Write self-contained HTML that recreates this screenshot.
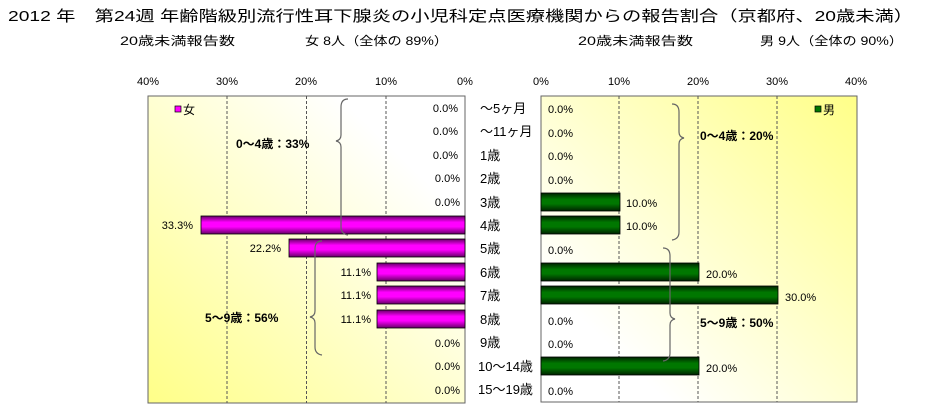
<!DOCTYPE html>
<html><head><meta charset="utf-8"><style>
body{margin:0;background:#fff}
svg{display:block}
text{font-family:"Liberation Sans","Noto Sans CJK JP",sans-serif}
</style></head><body>
<svg width="949" height="417" xmlns="http://www.w3.org/2000/svg">
<defs>
<linearGradient id="bgL" x1="0" y1="1" x2="1" y2="0">
<stop offset="0" stop-color="#ffff88"/><stop offset="0.8" stop-color="#ffffff"/></linearGradient>
<linearGradient id="bgR" x1="1" y1="0" x2="0" y2="1">
<stop offset="0" stop-color="#ffff88"/><stop offset="0.8" stop-color="#ffffff"/></linearGradient>
<linearGradient id="mag" x1="0" y1="0" x2="0" y2="1">
<stop offset="0" stop-color="#660066"/><stop offset="0.35" stop-color="#ff00ff"/><stop offset="0.6" stop-color="#ff00ff"/><stop offset="1" stop-color="#660066"/></linearGradient>
<linearGradient id="grn" x1="0" y1="0" x2="0" y2="1">
<stop offset="0" stop-color="#002200"/><stop offset="0.35" stop-color="#007700"/><stop offset="0.6" stop-color="#007700"/><stop offset="1" stop-color="#002200"/></linearGradient>
</defs>
<text x="8" y="21" font-size="15" textLength="905" lengthAdjust="spacingAndGlyphs">2012 年　第24週 年齢階級別流行性耳下腺炎の小児科定点医療機関からの報告割合（京都府、20歳未満）</text>
<text x="120" y="45" font-size="12" textLength="115" lengthAdjust="spacingAndGlyphs">20歳未満報告数</text>
<text x="305" y="45" font-size="12" textLength="143" lengthAdjust="spacingAndGlyphs">女 8人（全体の 89%）</text>
<text x="578" y="45" font-size="12" textLength="115" lengthAdjust="spacingAndGlyphs">20歳未満報告数</text>
<text x="760" y="45" font-size="12" textLength="143" lengthAdjust="spacingAndGlyphs">男 9人（全体の 90%）</text>

<rect x="148" y="96" width="317" height="307" fill="url(#bgL)" stroke="#666"/>
<g stroke="#555" stroke-dasharray="3,2"><line x1="227" y1="96" x2="227" y2="403"/><line x1="306.5" y1="96" x2="306.5" y2="403"/><line x1="386" y1="96" x2="386" y2="403"/></g>
<g font-size="11" text-anchor="middle"><text x="148" y="85">40%</text><text x="227" y="85">30%</text><text x="306" y="85">20%</text><text x="386" y="85">10%</text><text x="465" y="85">0%</text></g>
<rect x="175" y="106" width="6" height="6" fill="#ff00ff" stroke="#000" stroke-width="0.7"/><text x="183" y="114" font-size="12">女</text>
<g stroke="#000" stroke-width="0.8">
<rect x="201" y="216" width="264" height="18" fill="url(#mag)"/>
<rect x="289" y="239" width="176" height="18" fill="url(#mag)"/>
<rect x="377" y="263" width="88" height="18" fill="url(#mag)"/>
<rect x="377" y="286" width="88" height="18" fill="url(#mag)"/>
<rect x="377" y="310" width="88" height="18" fill="url(#mag)"/>
</g>
<g font-size="11" text-anchor="end">
<text x="458" y="112">0.0%</text><text x="458" y="135">0.0%</text><text x="458" y="159">0.0%</text><text x="460" y="182">0.0%</text><text x="460" y="206">0.0%</text>
<text x="193" y="229">33.3%</text><text x="281" y="252">22.2%</text><text x="371" y="276">11.1%</text><text x="371" y="299">11.1%</text><text x="371" y="323">11.1%</text>
<text x="460" y="347">0.0%</text><text x="460" y="370">0.0%</text><text x="460" y="394">0.0%</text>
</g>
<text x="236" y="148" font-size="12" font-weight="bold">0～4歳：33%</text>
<text x="205" y="322" font-size="12" font-weight="bold">5～9歳：56%</text>
<g fill="none" stroke="#666" stroke-width="1.2">
<path d="M348,99 q-7,0 -7,8 v28 q0,5 -5,6 q5,1 5,6 v80 q0,7 7,8"/>
<path d="M322,241 q-7,0 -7,8 v62 q0,5 -5,6 q5,1 5,6 v24 q0,7 7,8"/>
</g>

<g font-size="13">
<text x="480" y="113">～5ヶ月</text><text x="480" y="136">～11ヶ月</text><text x="480" y="160">1歳</text><text x="480" y="183">2歳</text><text x="480" y="207">3歳</text><text x="480" y="230">4歳</text><text x="480" y="253">5歳</text><text x="480" y="277">6歳</text><text x="480" y="300">7歳</text><text x="480" y="324">8歳</text><text x="480" y="347">9歳</text><text x="478" y="371">10～14歳</text><text x="478" y="394">15～19歳</text>
</g>

<rect x="541" y="96" width="316" height="306" fill="url(#bgR)" stroke="#666"/>
<g stroke="#555" stroke-dasharray="3,2"><line x1="619" y1="96" x2="619" y2="402"/><line x1="698" y1="96" x2="698" y2="402"/><line x1="777" y1="96" x2="777" y2="402"/></g>
<g font-size="11" text-anchor="middle"><text x="541" y="85">0%</text><text x="619" y="85">10%</text><text x="698" y="85">20%</text><text x="777" y="85">30%</text><text x="856" y="85">40%</text></g>
<rect x="815" y="106" width="6" height="6" fill="#007700" stroke="#000" stroke-width="0.7"/><text x="823" y="114" font-size="12">男</text>
<g stroke="#000" stroke-width="0.8">
<rect x="541" y="193" width="79" height="18" fill="url(#grn)"/>
<rect x="541" y="216" width="79" height="18" fill="url(#grn)"/>
<rect x="541" y="263" width="158" height="18" fill="url(#grn)"/>
<rect x="541" y="286" width="237" height="18" fill="url(#grn)"/>
<rect x="541" y="357" width="158" height="18" fill="url(#grn)"/>
</g>
<g font-size="11">
<text x="548" y="113">0.0%</text><text x="548" y="137">0.0%</text><text x="548" y="160">0.0%</text><text x="548" y="184">0.0%</text>
<text x="626" y="207">10.0%</text><text x="626" y="230">10.0%</text><text x="548" y="254">0.0%</text>
<text x="706" y="278">20.0%</text><text x="785" y="301">30.0%</text>
<text x="548" y="325">0.0%</text><text x="548" y="348">0.0%</text><text x="706" y="372">20.0%</text><text x="548" y="395">0.0%</text>
</g>
<text x="700" y="140" font-size="12" font-weight="bold">0～4歳：20%</text>
<text x="700" y="327" font-size="12" font-weight="bold">5～9歳：50%</text>
<g fill="none" stroke="#666" stroke-width="1.2">
<path d="M672,104 q7,0 7,8 v20 q0,5 5,6 q-5,1 -5,6 v88 q0,7 -7,8"/>
<path d="M663,248 q7,0 7,8 v57 q0,5 5,6 q-5,1 -5,6 v28 q0,7 -7,8"/>
</g>
</svg>
</body></html>
